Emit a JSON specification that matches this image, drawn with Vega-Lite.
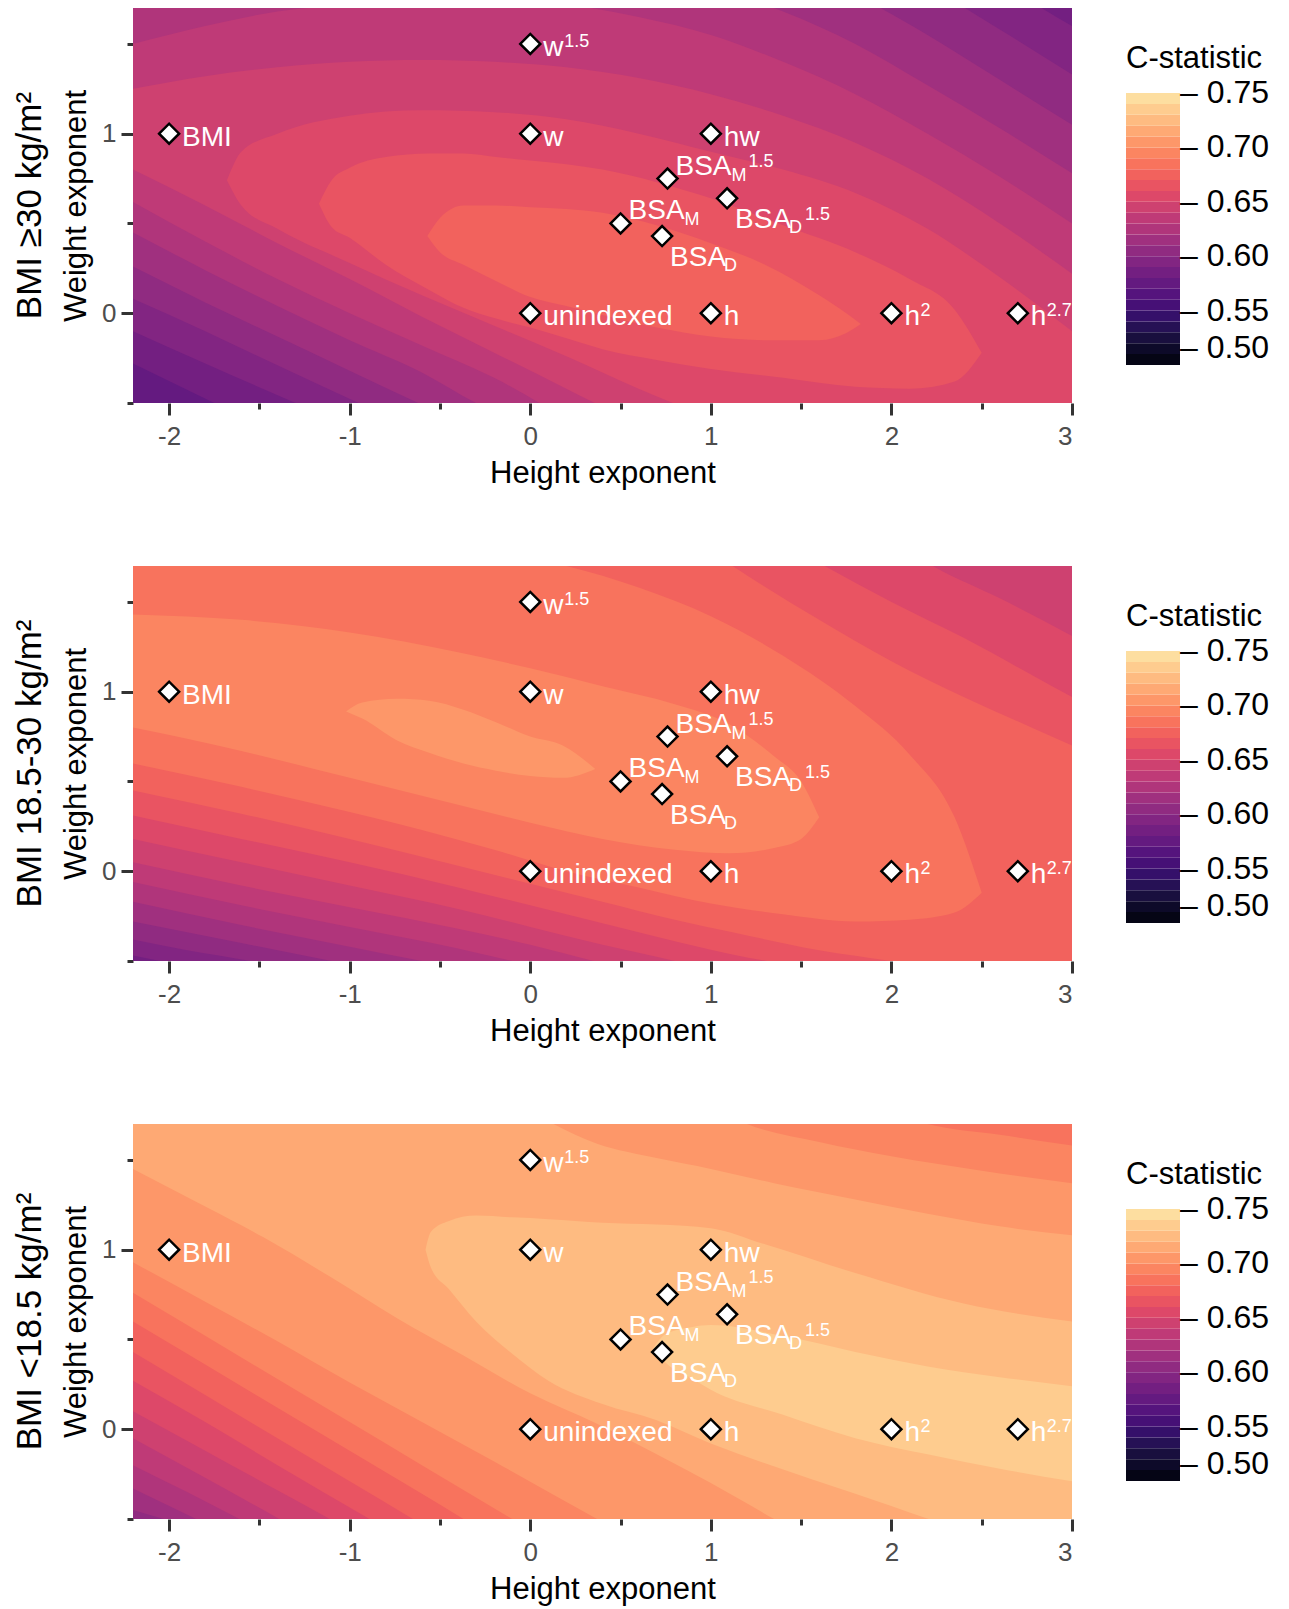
{
"$schema": "https://vega.github.io/schema/vega-lite/v6.json",
"padding": {"left": 12, "top": 8, "right": 5, "bottom": 5},
"background": "white",
"datasets": {
"pts": [
{"n":"BMI","hx":-2,"wx":1,"base":"BMI"},
{"n":"w","hx":0,"wx":1,"base":"w"},
{"n":"w15","hx":0,"wx":1.5,"base":"w","sup":"1.5"},
{"n":"hw","hx":1,"wx":1,"base":"hw"},
{"n":"unindexed","hx":0,"wx":0,"base":"unindexed"},
{"n":"h","hx":1,"wx":0,"base":"h"},
{"n":"h2","hx":2,"wx":0,"base":"h","sup":"2"},
{"n":"h27","hx":2.7,"wx":0,"base":"h","sup":"2.7"},
{"n":"BSAM","hx":0.5,"wx":0.5,"base":"BSA","sub":"M"},
{"n":"BSAM15","hx":0.76,"wx":0.75,"base":"BSA","sub":"M","sup":"1.5"},
{"n":"BSAD","hx":0.73,"wx":0.43,"base":"BSA","sub":"D"},
{"n":"BSAD15","hx":1.09,"wx":0.64,"base":"BSA","sub":"D","sup":"1.5"}
],
"bands": [
{"p":1,"c":0.575,"hx":-2.2,"lo":-0.8,"hi":1.9},{"p":1,"c":0.575,"hx":3,"lo":-0.8,"hi":1.9},
{"p":1,"c":0.585,"hx":-2.2,"lo":-0.28,"hi":1.9},{"p":1,"c":0.585,"hx":-1.75,"lo":-0.5,"hi":1.9},{"p":1,"c":0.585,"hx":-1.3,"lo":-0.72,"hi":1.9},{"p":1,"c":0.585,"hx":3,"lo":-0.8,"hi":1.9},
{"p":1,"c":0.595,"hx":-2.2,"lo":-0.1,"hi":1.9},{"p":1,"c":0.595,"hx":-1.8,"lo":-0.28,"hi":1.9},{"p":1,"c":0.595,"hx":-1.3,"lo":-0.5,"hi":1.9},{"p":1,"c":0.595,"hx":-0.8,"lo":-0.72,"hi":1.9},{"p":1,"c":0.595,"hx":2.6,"lo":-0.8,"hi":1.86},{"p":1,"c":0.595,"hx":2.8,"lo":-0.8,"hi":1.72},{"p":1,"c":0.595,"hx":3,"lo":-0.8,"hi":1.6},
{"p":1,"c":0.605,"hx":-2.2,"lo":0.08,"hi":1.9},{"p":1,"c":0.605,"hx":-1.8,"lo":-0.1,"hi":1.9},{"p":1,"c":0.605,"hx":-1.4,"lo":-0.29,"hi":1.9},{"p":1,"c":0.605,"hx":-0.95,"lo":-0.5,"hi":1.9},{"p":1,"c":0.605,"hx":-0.5,"lo":-0.7,"hi":1.9},{"p":1,"c":0.605,"hx":2,"lo":-0.8,"hi":1.92},{"p":1,"c":0.605,"hx":2.2,"lo":-0.8,"hi":1.82},{"p":1,"c":0.605,"hx":2.6,"lo":-0.8,"hi":1.58},{"p":1,"c":0.605,"hx":3,"lo":-0.8,"hi":1.33},
{"p":1,"c":0.615,"hx":-2.2,"lo":0.26,"hi":1.9},{"p":1,"c":0.615,"hx":-1.8,"lo":0.06,"hi":1.9},{"p":1,"c":0.615,"hx":-1.4,"lo":-0.13,"hi":1.9},{"p":1,"c":0.615,"hx":-1,"lo":-0.32,"hi":1.9},{"p":1,"c":0.615,"hx":-0.62,"lo":-0.5,"hi":1.9},{"p":1,"c":0.615,"hx":-0.2,"lo":-0.7,"hi":1.9},{"p":1,"c":0.615,"hx":1.6,"lo":-0.8,"hi":1.9},{"p":1,"c":0.615,"hx":1.8,"lo":-0.8,"hi":1.78},{"p":1,"c":0.615,"hx":2.2,"lo":-0.8,"hi":1.55},{"p":1,"c":0.615,"hx":2.6,"lo":-0.8,"hi":1.3},{"p":1,"c":0.615,"hx":3,"lo":-0.8,"hi":1.05},
{"p":1,"c":0.625,"hx":-2.2,"lo":0.45,"hi":1.95},{"p":1,"c":0.625,"hx":-1.8,"lo":0.24,"hi":1.95},{"p":1,"c":0.625,"hx":-1.4,"lo":0.04,"hi":1.95},{"p":1,"c":0.625,"hx":-1,"lo":-0.15,"hi":1.95},{"p":1,"c":0.625,"hx":-0.6,"lo":-0.33,"hi":1.95},{"p":1,"c":0.625,"hx":-0.3,"lo":-0.5,"hi":1.95},{"p":1,"c":0.625,"hx":0.1,"lo":-0.68,"hi":1.95},{"p":1,"c":0.625,"hx":0.6,"lo":-0.8,"hi":1.95},{"p":1,"c":0.625,"hx":1,"lo":-0.8,"hi":1.82},{"p":1,"c":0.625,"hx":1.4,"lo":-0.8,"hi":1.68},{"p":1,"c":0.625,"hx":1.8,"lo":-0.8,"hi":1.5},{"p":1,"c":0.625,"hx":2.2,"lo":-0.8,"hi":1.27},{"p":1,"c":0.625,"hx":2.6,"lo":-0.8,"hi":1.03},{"p":1,"c":0.625,"hx":3,"lo":-0.8,"hi":0.78},
{"p":1,"c":0.635,"hx":-2.2,"lo":0.62,"hi":1.5},{"p":1,"c":0.635,"hx":-1.8,"lo":0.4,"hi":1.6},{"p":1,"c":0.635,"hx":-1.4,"lo":0.19,"hi":1.68},{"p":1,"c":0.635,"hx":-1,"lo":0,"hi":1.72},{"p":1,"c":0.635,"hx":-0.6,"lo":-0.18,"hi":1.75},{"p":1,"c":0.635,"hx":-0.2,"lo":-0.36,"hi":1.75},{"p":1,"c":0.635,"hx":0.2,"lo":-0.58,"hi":1.72},{"p":1,"c":0.635,"hx":0.6,"lo":-0.75,"hi":1.65},{"p":1,"c":0.635,"hx":1,"lo":-0.8,"hi":1.55},{"p":1,"c":0.635,"hx":1.4,"lo":-0.8,"hi":1.4},{"p":1,"c":0.635,"hx":1.8,"lo":-0.8,"hi":1.22},{"p":1,"c":0.635,"hx":2.2,"lo":-0.8,"hi":1.0},{"p":1,"c":0.635,"hx":2.6,"lo":-0.8,"hi":0.76},{"p":1,"c":0.635,"hx":3,"lo":-0.8,"hi":0.5},
{"p":1,"c":0.645,"hx":-2.2,"lo":0.8,"hi":1.25},{"p":1,"c":0.645,"hx":-1.8,"lo":0.6,"hi":1.32},{"p":1,"c":0.645,"hx":-1.4,"lo":0.39,"hi":1.37},{"p":1,"c":0.645,"hx":-1,"lo":0.19,"hi":1.4},{"p":1,"c":0.645,"hx":-0.6,"lo":-0.02,"hi":1.41},{"p":1,"c":0.645,"hx":-0.2,"lo":-0.22,"hi":1.4},{"p":1,"c":0.645,"hx":0.2,"lo":-0.42,"hi":1.37},{"p":1,"c":0.645,"hx":0.6,"lo":-0.62,"hi":1.31},{"p":1,"c":0.645,"hx":1,"lo":-0.8,"hi":1.22},{"p":1,"c":0.645,"hx":1.4,"lo":-0.8,"hi":1.1},{"p":1,"c":0.645,"hx":1.8,"lo":-0.8,"hi":0.95},{"p":1,"c":0.645,"hx":2.2,"lo":-0.8,"hi":0.75},{"p":1,"c":0.645,"hx":2.6,"lo":-0.8,"hi":0.5},{"p":1,"c":0.645,"hx":3,"lo":-0.8,"hi":0.22},
{"p":1,"c":0.655,"hx":-1.68,"lo":0.74,"hi":0.74},{"p":1,"c":0.655,"hx":-1.6,"lo":0.6,"hi":0.9},{"p":1,"c":0.655,"hx":-1.4,"lo":0.47,"hi":1.0},{"p":1,"c":0.655,"hx":-1,"lo":0.28,"hi":1.1},{"p":1,"c":0.655,"hx":-0.6,"lo":0.1,"hi":1.13},{"p":1,"c":0.655,"hx":-0.2,"lo":-0.07,"hi":1.12},{"p":1,"c":0.655,"hx":0.2,"lo":-0.24,"hi":1.08},{"p":1,"c":0.655,"hx":0.6,"lo":-0.42,"hi":1.0},{"p":1,"c":0.655,"hx":1,"lo":-0.58,"hi":0.9},{"p":1,"c":0.655,"hx":1.4,"lo":-0.7,"hi":0.8},{"p":1,"c":0.655,"hx":1.8,"lo":-0.8,"hi":0.67},{"p":1,"c":0.655,"hx":2.2,"lo":-0.8,"hi":0.47},{"p":1,"c":0.655,"hx":2.6,"lo":-0.8,"hi":0.2},{"p":1,"c":0.655,"hx":3,"lo":-0.8,"hi":-0.1},
{"p":1,"c":0.665,"hx":-1.17,"lo":0.61,"hi":0.61},{"p":1,"c":0.665,"hx":-1.1,"lo":0.48,"hi":0.74},{"p":1,"c":0.665,"hx":-1,"lo":0.42,"hi":0.81},{"p":1,"c":0.665,"hx":-0.8,"lo":0.27,"hi":0.87},{"p":1,"c":0.665,"hx":-0.56,"lo":0.13,"hi":0.89},{"p":1,"c":0.665,"hx":-0.37,"lo":0.03,"hi":0.89},{"p":1,"c":0.665,"hx":-0.19,"lo":-0.03,"hi":0.87},{"p":1,"c":0.665,"hx":0,"lo":-0.08,"hi":0.85},{"p":1,"c":0.665,"hx":0.2,"lo":-0.14,"hi":0.83},{"p":1,"c":0.665,"hx":0.4,"lo":-0.2,"hi":0.8},{"p":1,"c":0.665,"hx":0.7,"lo":-0.26,"hi":0.73},{"p":1,"c":0.665,"hx":1,"lo":-0.31,"hi":0.64},{"p":1,"c":0.665,"hx":1.4,"lo":-0.36,"hi":0.49},{"p":1,"c":0.665,"hx":1.8,"lo":-0.41,"hi":0.34},{"p":1,"c":0.665,"hx":2.1,"lo":-0.42,"hi":0.19},{"p":1,"c":0.665,"hx":2.35,"lo":-0.38,"hi":0.02},{"p":1,"c":0.665,"hx":2.5,"lo":-0.22,"hi":-0.22},
{"p":1,"c":0.675,"hx":-0.57,"lo":0.43,"hi":0.43},{"p":1,"c":0.675,"hx":-0.5,"lo":0.34,"hi":0.53},{"p":1,"c":0.675,"hx":-0.37,"lo":0.27,"hi":0.6},{"p":1,"c":0.675,"hx":-0.19,"lo":0.18,"hi":0.6},{"p":1,"c":0.675,"hx":0,"lo":0.09,"hi":0.59},{"p":1,"c":0.675,"hx":0.2,"lo":0.04,"hi":0.58},{"p":1,"c":0.675,"hx":0.4,"lo":-0.01,"hi":0.56},{"p":1,"c":0.675,"hx":0.7,"lo":-0.08,"hi":0.49},{"p":1,"c":0.675,"hx":1,"lo":-0.13,"hi":0.39},{"p":1,"c":0.675,"hx":1.3,"lo":-0.15,"hi":0.27},{"p":1,"c":0.675,"hx":1.6,"lo":-0.15,"hi":0.1},{"p":1,"c":0.675,"hx":1.75,"lo":-0.11,"hi":0},{"p":1,"c":0.675,"hx":1.83,"lo":-0.06,"hi":-0.06},

{"p":2,"c":0.585,"hx":-2.2,"lo":-0.8,"hi":1.9},{"p":2,"c":0.585,"hx":3,"lo":-0.8,"hi":1.9},
{"p":2,"c":0.595,"hx":-2.2,"lo":-0.47,"hi":1.9},{"p":2,"c":0.595,"hx":-2.05,"lo":-0.5,"hi":1.9},{"p":2,"c":0.595,"hx":-1.5,"lo":-0.62,"hi":1.9},{"p":2,"c":0.595,"hx":3,"lo":-0.8,"hi":1.9},
{"p":2,"c":0.605,"hx":-2.2,"lo":-0.38,"hi":1.9},{"p":2,"c":0.605,"hx":-1.9,"lo":-0.44,"hi":1.9},{"p":2,"c":0.605,"hx":-1.55,"lo":-0.5,"hi":1.9},{"p":2,"c":0.605,"hx":-1,"lo":-0.62,"hi":1.9},{"p":2,"c":0.605,"hx":3,"lo":-0.8,"hi":1.9},
{"p":2,"c":0.615,"hx":-2.2,"lo":-0.28,"hi":1.9},{"p":2,"c":0.615,"hx":-1.6,"lo":-0.4,"hi":1.9},{"p":2,"c":0.615,"hx":-1.1,"lo":-0.5,"hi":1.9},{"p":2,"c":0.615,"hx":-0.5,"lo":-0.62,"hi":1.9},{"p":2,"c":0.615,"hx":3,"lo":-0.8,"hi":1.9},
{"p":2,"c":0.625,"hx":-2.2,"lo":-0.17,"hi":1.9},{"p":2,"c":0.625,"hx":-1.6,"lo":-0.3,"hi":1.9},{"p":2,"c":0.625,"hx":-1,"lo":-0.42,"hi":1.9},{"p":2,"c":0.625,"hx":-0.6,"lo":-0.5,"hi":1.9},{"p":2,"c":0.625,"hx":0,"lo":-0.62,"hi":1.9},{"p":2,"c":0.625,"hx":3,"lo":-0.8,"hi":1.9},
{"p":2,"c":0.635,"hx":-2.2,"lo":-0.06,"hi":1.9},{"p":2,"c":0.635,"hx":-1.6,"lo":-0.19,"hi":1.9},{"p":2,"c":0.635,"hx":-1,"lo":-0.31,"hi":1.9},{"p":2,"c":0.635,"hx":-0.4,"lo":-0.43,"hi":1.9},{"p":2,"c":0.635,"hx":-0.1,"lo":-0.5,"hi":1.9},{"p":2,"c":0.635,"hx":0.4,"lo":-0.62,"hi":1.9},{"p":2,"c":0.635,"hx":3,"lo":-0.8,"hi":1.9},
{"p":2,"c":0.645,"hx":-2.2,"lo":0.05,"hi":1.9},{"p":2,"c":0.645,"hx":-1.6,"lo":-0.08,"hi":1.9},{"p":2,"c":0.645,"hx":-1,"lo":-0.2,"hi":1.9},{"p":2,"c":0.645,"hx":-0.4,"lo":-0.32,"hi":1.9},{"p":2,"c":0.645,"hx":0,"lo":-0.41,"hi":1.9},{"p":2,"c":0.645,"hx":0.35,"lo":-0.5,"hi":1.9},{"p":2,"c":0.645,"hx":0.8,"lo":-0.62,"hi":1.9},{"p":2,"c":0.645,"hx":3,"lo":-0.8,"hi":1.9},
{"p":2,"c":0.655,"hx":-2.2,"lo":0.18,"hi":1.9},{"p":2,"c":0.655,"hx":-1.6,"lo":0.05,"hi":1.9},{"p":2,"c":0.655,"hx":-1,"lo":-0.08,"hi":1.9},{"p":2,"c":0.655,"hx":-0.4,"lo":-0.21,"hi":1.9},{"p":2,"c":0.655,"hx":0,"lo":-0.31,"hi":1.9},{"p":2,"c":0.655,"hx":0.4,"lo":-0.41,"hi":1.9},{"p":2,"c":0.655,"hx":0.8,"lo":-0.5,"hi":1.9},{"p":2,"c":0.655,"hx":1.2,"lo":-0.6,"hi":1.9},{"p":2,"c":0.655,"hx":1.8,"lo":-0.75,"hi":1.95},{"p":2,"c":0.655,"hx":2,"lo":-0.8,"hi":1.85},{"p":2,"c":0.655,"hx":2.23,"lo":-0.8,"hi":1.7},{"p":2,"c":0.655,"hx":2.6,"lo":-0.8,"hi":1.52},{"p":2,"c":0.655,"hx":3,"lo":-0.8,"hi":1.31},
{"p":2,"c":0.665,"hx":-2.2,"lo":0.31,"hi":1.9},{"p":2,"c":0.665,"hx":-1.6,"lo":0.18,"hi":1.9},{"p":2,"c":0.665,"hx":-1,"lo":0.05,"hi":1.9},{"p":2,"c":0.665,"hx":-0.4,"lo":-0.09,"hi":1.9},{"p":2,"c":0.665,"hx":0,"lo":-0.19,"hi":1.9},{"p":2,"c":0.665,"hx":0.4,"lo":-0.29,"hi":1.9},{"p":2,"c":0.665,"hx":0.8,"lo":-0.39,"hi":1.9},{"p":2,"c":0.665,"hx":1.2,"lo":-0.48,"hi":1.95},{"p":2,"c":0.665,"hx":1.63,"lo":-0.55,"hi":1.7},{"p":2,"c":0.665,"hx":2,"lo":-0.62,"hi":1.5},{"p":2,"c":0.665,"hx":2.4,"lo":-0.7,"hi":1.3},{"p":2,"c":0.665,"hx":2.8,"lo":-0.75,"hi":1.08},{"p":2,"c":0.665,"hx":3,"lo":-0.8,"hi":0.97},
{"p":2,"c":0.675,"hx":-2.2,"lo":0.45,"hi":1.9},{"p":2,"c":0.675,"hx":-1.6,"lo":0.32,"hi":1.9},{"p":2,"c":0.675,"hx":-1,"lo":0.18,"hi":1.9},{"p":2,"c":0.675,"hx":-0.4,"lo":0.03,"hi":1.9},{"p":2,"c":0.675,"hx":0,"lo":-0.07,"hi":1.9},{"p":2,"c":0.675,"hx":0.4,"lo":-0.17,"hi":1.9},{"p":2,"c":0.675,"hx":0.8,"lo":-0.27,"hi":1.92},{"p":2,"c":0.675,"hx":1.12,"lo":-0.34,"hi":1.7},{"p":2,"c":0.675,"hx":1.6,"lo":-0.44,"hi":1.4},{"p":2,"c":0.675,"hx":2,"lo":-0.5,"hi":1.17},{"p":2,"c":0.675,"hx":2.4,"lo":-0.56,"hi":0.97},{"p":2,"c":0.675,"hx":2.8,"lo":-0.6,"hi":0.79},{"p":2,"c":0.675,"hx":3,"lo":-0.62,"hi":0.7},
{"p":2,"c":0.685,"hx":-2.2,"lo":0.6,"hi":1.9},{"p":2,"c":0.685,"hx":-1.6,"lo":0.47,"hi":1.9},{"p":2,"c":0.685,"hx":-1,"lo":0.33,"hi":1.9},{"p":2,"c":0.685,"hx":-0.6,"lo":0.23,"hi":1.88},{"p":2,"c":0.685,"hx":-0.2,"lo":0.12,"hi":1.78},{"p":2,"c":0.685,"hx":0.2,"lo":0,"hi":1.7},{"p":2,"c":0.685,"hx":0.6,"lo":-0.09,"hi":1.58},{"p":2,"c":0.685,"hx":1,"lo":-0.18,"hi":1.42},{"p":2,"c":0.685,"hx":1.4,"lo":-0.24,"hi":1.2},{"p":2,"c":0.685,"hx":1.8,"lo":-0.28,"hi":0.92},{"p":2,"c":0.685,"hx":2.1,"lo":-0.27,"hi":0.65},{"p":2,"c":0.685,"hx":2.35,"lo":-0.23,"hi":0.3},{"p":2,"c":0.685,"hx":2.5,"lo":-0.12,"hi":-0.12},
{"p":2,"c":0.695,"hx":-2.2,"lo":0.8,"hi":1.43},{"p":2,"c":0.695,"hx":-1.6,"lo":0.67,"hi":1.4},{"p":2,"c":0.695,"hx":-1,"lo":0.52,"hi":1.33},{"p":2,"c":0.695,"hx":-0.4,"lo":0.37,"hi":1.22},{"p":2,"c":0.695,"hx":0,"lo":0.27,"hi":1.13},{"p":2,"c":0.695,"hx":0.4,"lo":0.18,"hi":1.03},{"p":2,"c":0.695,"hx":0.8,"lo":0.12,"hi":0.93},{"p":2,"c":0.695,"hx":1.1,"lo":0.1,"hi":0.82},{"p":2,"c":0.695,"hx":1.35,"lo":0.13,"hi":0.64},{"p":2,"c":0.695,"hx":1.5,"lo":0.18,"hi":0.5},{"p":2,"c":0.695,"hx":1.6,"lo":0.3,"hi":0.3},
{"p":2,"c":0.705,"hx":-1.02,"lo":0.89,"hi":0.89},{"p":2,"c":0.705,"hx":-0.93,"lo":0.85,"hi":0.94},{"p":2,"c":0.705,"hx":-0.74,"lo":0.73,"hi":0.96},{"p":2,"c":0.705,"hx":-0.56,"lo":0.66,"hi":0.95},{"p":2,"c":0.705,"hx":-0.37,"lo":0.6,"hi":0.9},{"p":2,"c":0.705,"hx":-0.19,"lo":0.56,"hi":0.83},{"p":2,"c":0.705,"hx":0,"lo":0.53,"hi":0.75},{"p":2,"c":0.705,"hx":0.18,"lo":0.52,"hi":0.7},{"p":2,"c":0.705,"hx":0.36,"lo":0.57,"hi":0.57},

{"p":3,"c":0.605,"hx":-2.2,"lo":-0.8,"hi":1.9},{"p":3,"c":0.605,"hx":3,"lo":-0.8,"hi":1.9},
{"p":3,"c":0.615,"hx":-2.2,"lo":-0.45,"hi":1.9},{"p":3,"c":0.615,"hx":-2.03,"lo":-0.5,"hi":1.9},{"p":3,"c":0.615,"hx":-1.6,"lo":-0.62,"hi":1.9},{"p":3,"c":0.615,"hx":3,"lo":-0.8,"hi":1.9},
{"p":3,"c":0.625,"hx":-2.2,"lo":-0.33,"hi":1.9},{"p":3,"c":0.625,"hx":-1.85,"lo":-0.5,"hi":1.9},{"p":3,"c":0.625,"hx":-1.4,"lo":-0.72,"hi":1.9},{"p":3,"c":0.625,"hx":3,"lo":-0.8,"hi":1.9},
{"p":3,"c":0.635,"hx":-2.2,"lo":-0.2,"hi":1.9},{"p":3,"c":0.635,"hx":-1.9,"lo":-0.35,"hi":1.9},{"p":3,"c":0.635,"hx":-1.61,"lo":-0.5,"hi":1.9},{"p":3,"c":0.635,"hx":-1.2,"lo":-0.71,"hi":1.9},{"p":3,"c":0.635,"hx":3,"lo":-0.8,"hi":1.9},
{"p":3,"c":0.645,"hx":-2.2,"lo":-0.05,"hi":1.9},{"p":3,"c":0.645,"hx":-1.8,"lo":-0.27,"hi":1.9},{"p":3,"c":0.645,"hx":-1.39,"lo":-0.5,"hi":1.9},{"p":3,"c":0.645,"hx":-1,"lo":-0.72,"hi":1.9},{"p":3,"c":0.645,"hx":3,"lo":-0.8,"hi":1.9},
{"p":3,"c":0.655,"hx":-2.2,"lo":0.1,"hi":1.9},{"p":3,"c":0.655,"hx":-1.8,"lo":-0.12,"hi":1.9},{"p":3,"c":0.655,"hx":-1.4,"lo":-0.34,"hi":1.9},{"p":3,"c":0.655,"hx":-1.11,"lo":-0.5,"hi":1.9},{"p":3,"c":0.655,"hx":-0.7,"lo":-0.73,"hi":1.9},{"p":3,"c":0.655,"hx":3,"lo":-0.8,"hi":1.9},
{"p":3,"c":0.665,"hx":-2.2,"lo":0.27,"hi":1.9},{"p":3,"c":0.665,"hx":-1.8,"lo":0.04,"hi":1.9},{"p":3,"c":0.665,"hx":-1.4,"lo":-0.2,"hi":1.9},{"p":3,"c":0.665,"hx":-0.89,"lo":-0.5,"hi":1.9},{"p":3,"c":0.665,"hx":-0.4,"lo":-0.79,"hi":1.9},{"p":3,"c":0.665,"hx":3,"lo":-0.8,"hi":1.9},
{"p":3,"c":0.675,"hx":-2.2,"lo":0.43,"hi":1.9},{"p":3,"c":0.675,"hx":-1.8,"lo":0.19,"hi":1.9},{"p":3,"c":0.675,"hx":-1.4,"lo":-0.05,"hi":1.9},{"p":3,"c":0.675,"hx":-1,"lo":-0.29,"hi":1.9},{"p":3,"c":0.675,"hx":-0.65,"lo":-0.5,"hi":1.9},{"p":3,"c":0.675,"hx":-0.2,"lo":-0.77,"hi":1.9},{"p":3,"c":0.675,"hx":3,"lo":-0.8,"hi":1.9},
{"p":3,"c":0.685,"hx":-2.2,"lo":0.6,"hi":1.9},{"p":3,"c":0.685,"hx":-1.8,"lo":0.36,"hi":1.9},{"p":3,"c":0.685,"hx":-1.4,"lo":0.12,"hi":1.9},{"p":3,"c":0.685,"hx":-1,"lo":-0.12,"hi":1.9},{"p":3,"c":0.685,"hx":-0.6,"lo":-0.36,"hi":1.9},{"p":3,"c":0.685,"hx":-0.37,"lo":-0.5,"hi":1.9},{"p":3,"c":0.685,"hx":0,"lo":-0.72,"hi":1.9},{"p":3,"c":0.685,"hx":3,"lo":-0.8,"hi":1.9},
{"p":3,"c":0.695,"hx":-2.2,"lo":0.76,"hi":1.9},{"p":3,"c":0.695,"hx":-1.8,"lo":0.52,"hi":1.9},{"p":3,"c":0.695,"hx":-1.4,"lo":0.28,"hi":1.9},{"p":3,"c":0.695,"hx":-1,"lo":0.04,"hi":1.9},{"p":3,"c":0.695,"hx":-0.6,"lo":-0.2,"hi":1.9},{"p":3,"c":0.695,"hx":-0.1,"lo":-0.5,"hi":1.9},{"p":3,"c":0.695,"hx":0.3,"lo":-0.74,"hi":1.9},{"p":3,"c":0.695,"hx":1.4,"lo":-0.8,"hi":1.92},{"p":3,"c":0.695,"hx":1.8,"lo":-0.8,"hi":1.85},{"p":3,"c":0.695,"hx":2.2,"lo":-0.8,"hi":1.7},{"p":3,"c":0.695,"hx":2.6,"lo":-0.8,"hi":1.64},{"p":3,"c":0.695,"hx":3,"lo":-0.8,"hi":1.58},
{"p":3,"c":0.705,"hx":-2.2,"lo":0.93,"hi":1.9},{"p":3,"c":0.705,"hx":-1.8,"lo":0.71,"hi":1.9},{"p":3,"c":0.705,"hx":-1.4,"lo":0.49,"hi":1.9},{"p":3,"c":0.705,"hx":-1,"lo":0.26,"hi":1.9},{"p":3,"c":0.705,"hx":-0.6,"lo":0.04,"hi":1.9},{"p":3,"c":0.705,"hx":-0.2,"lo":-0.18,"hi":1.9},{"p":3,"c":0.705,"hx":0.37,"lo":-0.5,"hi":1.9},{"p":3,"c":0.705,"hx":0.8,"lo":-0.74,"hi":1.92},{"p":3,"c":0.705,"hx":1.2,"lo":-0.8,"hi":1.7},{"p":3,"c":0.705,"hx":1.6,"lo":-0.8,"hi":1.6},{"p":3,"c":0.705,"hx":2,"lo":-0.8,"hi":1.52},{"p":3,"c":0.705,"hx":2.5,"lo":-0.8,"hi":1.44},{"p":3,"c":0.705,"hx":3,"lo":-0.8,"hi":1.37},
{"p":3,"c":0.715,"hx":-2.2,"lo":1.45,"hi":1.9},{"p":3,"c":0.715,"hx":-1.8,"lo":1.24,"hi":1.9},{"p":3,"c":0.715,"hx":-1.48,"lo":1.07,"hi":1.9},{"p":3,"c":0.715,"hx":-1.11,"lo":0.85,"hi":1.9},{"p":3,"c":0.715,"hx":-0.74,"lo":0.62,"hi":1.9},{"p":3,"c":0.715,"hx":-0.37,"lo":0.41,"hi":1.9},{"p":3,"c":0.715,"hx":0,"lo":0.2,"hi":1.76},{"p":3,"c":0.715,"hx":0.37,"lo":0.03,"hi":1.59},{"p":3,"c":0.715,"hx":0.7,"lo":-0.14,"hi":1.51},{"p":3,"c":0.715,"hx":1,"lo":-0.3,"hi":1.45},{"p":3,"c":0.715,"hx":1.35,"lo":-0.5,"hi":1.37},{"p":3,"c":0.715,"hx":1.8,"lo":-0.75,"hi":1.28},{"p":3,"c":0.715,"hx":2.2,"lo":-0.8,"hi":1.2},{"p":3,"c":0.715,"hx":2.6,"lo":-0.8,"hi":1.13},{"p":3,"c":0.715,"hx":3,"lo":-0.8,"hi":1.08},
{"p":3,"c":0.725,"hx":-0.58,"lo":1,"hi":1},{"p":3,"c":0.725,"hx":-0.55,"lo":0.9,"hi":1.1},{"p":3,"c":0.725,"hx":-0.45,"lo":0.78,"hi":1.16},{"p":3,"c":0.725,"hx":-0.3,"lo":0.6,"hi":1.19},{"p":3,"c":0.725,"hx":-0.1,"lo":0.42,"hi":1.18},{"p":3,"c":0.725,"hx":0.1,"lo":0.27,"hi":1.17},{"p":3,"c":0.725,"hx":0.4,"lo":0.14,"hi":1.15},{"p":3,"c":0.725,"hx":0.7,"lo":0.05,"hi":1.14},{"p":3,"c":0.725,"hx":1,"lo":-0.08,"hi":1.12},{"p":3,"c":0.725,"hx":1.3,"lo":-0.19,"hi":1.03},{"p":3,"c":0.725,"hx":1.8,"lo":-0.36,"hi":0.87},{"p":3,"c":0.725,"hx":2.4,"lo":-0.56,"hi":0.7},{"p":3,"c":0.725,"hx":3,"lo":-0.7,"hi":0.6},
{"p":3,"c":0.735,"hx":0.68,"lo":0.45,"hi":0.45},{"p":3,"c":0.735,"hx":0.75,"lo":0.37,"hi":0.53},{"p":3,"c":0.735,"hx":0.9,"lo":0.28,"hi":0.57},{"p":3,"c":0.735,"hx":1,"lo":0.22,"hi":0.58},{"p":3,"c":0.735,"hx":1.4,"lo":0.08,"hi":0.52},{"p":3,"c":0.735,"hx":1.8,"lo":-0.05,"hi":0.43},{"p":3,"c":0.735,"hx":2.2,"lo":-0.14,"hi":0.35},{"p":3,"c":0.735,"hx":2.6,"lo":-0.22,"hi":0.29},{"p":3,"c":0.735,"hx":3,"lo":-0.29,"hi":0.24}
]
},
"vconcat": [
{
"width": 939, "height": 395,
"title": {"text": "BMI ≥30 kg/m²", "orient": "left", "anchor": "middle", "offset": 13},
"encoding": {
"x": {"field": "hx", "type": "quantitative", "scale": {"domain": [-2.2, 3], "nice": false, "zero": false}, "axis": {"title": "Height exponent", "values": [-2,-1.5,-1,-0.5,0,0.5,1,1.5,2,2.5,3], "labelExpr": "datum.value % 1 === 0 ? '' + datum.value : ''", "tickSize": {"condition": {"test": "datum.value % 1 === 0", "value": 12}, "value": 6}}},
"y": {"field": "wx", "type": "quantitative", "scale": {"domain": [-0.5, 1.7], "nice": false, "zero": false}, "axis": {"title": "Weight exponent", "labelPadding": 5, "values": [-0.5,0,0.5,1,1.5], "labelExpr": "datum.value % 1 === 0 ? '' + datum.value : ''", "tickSize": {"condition": {"test": "datum.value % 1 === 0", "value": 12}, "value": 6}}}
},
"layer": [
{"data": {"name": "bands"}, "transform": [{"filter": "datum.p == 1"}], "mark": {"type": "area", "interpolate": "monotone", "clip": true},
 "encoding": {"y": {"field": "lo", "type": "quantitative", "scale": {"domain": [-0.5, 1.7], "nice": false, "zero": false}, "stack": null, "axis": {"title": "Weight exponent", "labelPadding": 5, "values": [-0.5,0,0.5,1,1.5], "labelExpr": "datum.value % 1 === 0 ? '' + datum.value : ''", "tickSize": {"condition": {"test": "datum.value % 1 === 0", "value": 12}, "value": 6}}}, "y2": {"field": "hi"},
 "color": {"field": "c", "type": "quantitative", "scale": {"type": "quantize", "domain": [0.5, 0.75], "scheme": {"name": "magma", "count": 25, "extent": [0, 0.97]}},
 "legend": {"type": "gradient", "title": "C-statistic", "orient": "none", "legendX": 993, "legendY": 36, "direction": "vertical", "gradientLength": 272, "gradientThickness": 54, "gradientStrokeWidth": 0, "titleFontSize": 31, "titleFontWeight": "normal", "titleColor": "black", "titlePadding": 18, "labelFontSize": 32, "labelColor": "black", "labelOffset": 0, "labelOverlap": false, "values": [0.5001,0.51,0.52,0.53,0.54,0.55,0.56,0.57,0.58,0.59,0.6,0.61,0.62,0.63,0.64,0.65,0.66,0.67,0.68,0.69,0.7,0.71,0.72,0.73,0.74,0.7499], "labelExpr": "round(datum.value * 100) % 5 === 0 ? '– ' + format(datum.value, '.2f') : ''"}}}},
{"data": {"name": "pts"}, "mark": {"type": "point", "shape": "diamond", "size": 400, "filled": true, "fill": "white", "stroke": "black", "strokeWidth": 2.5, "opacity": 1}},
{"data": {"name": "pts"}, "transform": [{"filter": "!datum.sub"}], "mark": {"type": "text", "dx": 13, "dy": 12}, "encoding": {"text": {"field": "base"}}},
{"data": {"name": "pts"}, "transform": [{"filter": "!datum.sub && datum.base == 'w' && datum.sup"}], "mark": {"type": "text", "dx": 34, "dy": 3, "fontSize": 18}, "encoding": {"text": {"field": "sup"}}},
{"data": {"name": "pts"}, "transform": [{"filter": "!datum.sub && datum.base == 'h' && datum.sup"}], "mark": {"type": "text", "dx": 29, "dy": 3, "fontSize": 18}, "encoding": {"text": {"field": "sup"}}},
{"data": {"name": "pts"}, "transform": [{"filter": "datum.sub == 'M'"}], "mark": {"type": "text", "dx": 8, "dy": -4}, "encoding": {"text": {"field": "base"}}},
{"data": {"name": "pts"}, "transform": [{"filter": "datum.sub == 'M'"}], "mark": {"type": "text", "dx": 64, "dy": 2, "fontSize": 18}, "encoding": {"text": {"field": "sub"}}},
{"data": {"name": "pts"}, "transform": [{"filter": "datum.sub == 'M' && datum.sup"}], "mark": {"type": "text", "dx": 81, "dy": -12, "fontSize": 18}, "encoding": {"text": {"field": "sup"}}},
{"data": {"name": "pts"}, "transform": [{"filter": "datum.sub == 'D'"}], "mark": {"type": "text", "dx": 8, "dy": 30}, "encoding": {"text": {"field": "base"}}},
{"data": {"name": "pts"}, "transform": [{"filter": "datum.sub == 'D'"}], "mark": {"type": "text", "dx": 62, "dy": 35, "fontSize": 18}, "encoding": {"text": {"field": "sub"}}},
{"data": {"name": "pts"}, "transform": [{"filter": "datum.sub == 'D' && datum.sup"}], "mark": {"type": "text", "dx": 78, "dy": 22, "fontSize": 18}, "encoding": {"text": {"field": "sup"}}}
]
},
{
"width": 939, "height": 395,
"title": {"text": "BMI 18.5-30 kg/m²", "orient": "left", "anchor": "middle", "offset": 13},
"encoding": {
"x": {"field": "hx", "type": "quantitative", "scale": {"domain": [-2.2, 3], "nice": false, "zero": false}, "axis": {"title": "Height exponent", "values": [-2,-1.5,-1,-0.5,0,0.5,1,1.5,2,2.5,3], "labelExpr": "datum.value % 1 === 0 ? '' + datum.value : ''", "tickSize": {"condition": {"test": "datum.value % 1 === 0", "value": 12}, "value": 6}}},
"y": {"field": "wx", "type": "quantitative", "scale": {"domain": [-0.5, 1.7], "nice": false, "zero": false}, "axis": {"title": "Weight exponent", "labelPadding": 5, "values": [-0.5,0,0.5,1,1.5], "labelExpr": "datum.value % 1 === 0 ? '' + datum.value : ''", "tickSize": {"condition": {"test": "datum.value % 1 === 0", "value": 12}, "value": 6}}}
},
"layer": [
{"data": {"name": "bands"}, "transform": [{"filter": "datum.p == 2"}], "mark": {"type": "area", "interpolate": "monotone", "clip": true},
 "encoding": {"y": {"field": "lo", "type": "quantitative", "scale": {"domain": [-0.5, 1.7], "nice": false, "zero": false}, "stack": null, "axis": {"title": "Weight exponent", "labelPadding": 5, "values": [-0.5,0,0.5,1,1.5], "labelExpr": "datum.value % 1 === 0 ? '' + datum.value : ''", "tickSize": {"condition": {"test": "datum.value % 1 === 0", "value": 12}, "value": 6}}}, "y2": {"field": "hi"},
 "color": {"field": "c", "type": "quantitative", "scale": {"type": "quantize", "domain": [0.5, 0.75], "scheme": {"name": "magma", "count": 25, "extent": [0, 0.97]}},
 "legend": {"type": "gradient", "title": "C-statistic", "orient": "none", "legendX": 993, "legendY": 36, "direction": "vertical", "gradientLength": 272, "gradientThickness": 54, "gradientStrokeWidth": 0, "titleFontSize": 31, "titleFontWeight": "normal", "titleColor": "black", "titlePadding": 18, "labelFontSize": 32, "labelColor": "black", "labelOffset": 0, "labelOverlap": false, "values": [0.5001,0.51,0.52,0.53,0.54,0.55,0.56,0.57,0.58,0.59,0.6,0.61,0.62,0.63,0.64,0.65,0.66,0.67,0.68,0.69,0.7,0.71,0.72,0.73,0.74,0.7499], "labelExpr": "round(datum.value * 100) % 5 === 0 ? '– ' + format(datum.value, '.2f') : ''"}}}},
{"data": {"name": "pts"}, "mark": {"type": "point", "shape": "diamond", "size": 400, "filled": true, "fill": "white", "stroke": "black", "strokeWidth": 2.5, "opacity": 1}},
{"data": {"name": "pts"}, "transform": [{"filter": "!datum.sub"}], "mark": {"type": "text", "dx": 13, "dy": 12}, "encoding": {"text": {"field": "base"}}},
{"data": {"name": "pts"}, "transform": [{"filter": "!datum.sub && datum.base == 'w' && datum.sup"}], "mark": {"type": "text", "dx": 34, "dy": 3, "fontSize": 18}, "encoding": {"text": {"field": "sup"}}},
{"data": {"name": "pts"}, "transform": [{"filter": "!datum.sub && datum.base == 'h' && datum.sup"}], "mark": {"type": "text", "dx": 29, "dy": 3, "fontSize": 18}, "encoding": {"text": {"field": "sup"}}},
{"data": {"name": "pts"}, "transform": [{"filter": "datum.sub == 'M'"}], "mark": {"type": "text", "dx": 8, "dy": -4}, "encoding": {"text": {"field": "base"}}},
{"data": {"name": "pts"}, "transform": [{"filter": "datum.sub == 'M'"}], "mark": {"type": "text", "dx": 64, "dy": 2, "fontSize": 18}, "encoding": {"text": {"field": "sub"}}},
{"data": {"name": "pts"}, "transform": [{"filter": "datum.sub == 'M' && datum.sup"}], "mark": {"type": "text", "dx": 81, "dy": -12, "fontSize": 18}, "encoding": {"text": {"field": "sup"}}},
{"data": {"name": "pts"}, "transform": [{"filter": "datum.sub == 'D'"}], "mark": {"type": "text", "dx": 8, "dy": 30}, "encoding": {"text": {"field": "base"}}},
{"data": {"name": "pts"}, "transform": [{"filter": "datum.sub == 'D'"}], "mark": {"type": "text", "dx": 62, "dy": 35, "fontSize": 18}, "encoding": {"text": {"field": "sub"}}},
{"data": {"name": "pts"}, "transform": [{"filter": "datum.sub == 'D' && datum.sup"}], "mark": {"type": "text", "dx": 78, "dy": 22, "fontSize": 18}, "encoding": {"text": {"field": "sup"}}}
]
},
{
"width": 939, "height": 395,
"title": {"text": "BMI <18.5 kg/m²", "orient": "left", "anchor": "middle", "offset": 13},
"encoding": {
"x": {"field": "hx", "type": "quantitative", "scale": {"domain": [-2.2, 3], "nice": false, "zero": false}, "axis": {"title": "Height exponent", "values": [-2,-1.5,-1,-0.5,0,0.5,1,1.5,2,2.5,3], "labelExpr": "datum.value % 1 === 0 ? '' + datum.value : ''", "tickSize": {"condition": {"test": "datum.value % 1 === 0", "value": 12}, "value": 6}}},
"y": {"field": "wx", "type": "quantitative", "scale": {"domain": [-0.5, 1.7], "nice": false, "zero": false}, "axis": {"title": "Weight exponent", "labelPadding": 5, "values": [-0.5,0,0.5,1,1.5], "labelExpr": "datum.value % 1 === 0 ? '' + datum.value : ''", "tickSize": {"condition": {"test": "datum.value % 1 === 0", "value": 12}, "value": 6}}}
},
"layer": [
{"data": {"name": "bands"}, "transform": [{"filter": "datum.p == 3"}], "mark": {"type": "area", "interpolate": "monotone", "clip": true},
 "encoding": {"y": {"field": "lo", "type": "quantitative", "scale": {"domain": [-0.5, 1.7], "nice": false, "zero": false}, "stack": null, "axis": {"title": "Weight exponent", "labelPadding": 5, "values": [-0.5,0,0.5,1,1.5], "labelExpr": "datum.value % 1 === 0 ? '' + datum.value : ''", "tickSize": {"condition": {"test": "datum.value % 1 === 0", "value": 12}, "value": 6}}}, "y2": {"field": "hi"},
 "color": {"field": "c", "type": "quantitative", "scale": {"type": "quantize", "domain": [0.5, 0.75], "scheme": {"name": "magma", "count": 25, "extent": [0, 0.97]}},
 "legend": {"type": "gradient", "title": "C-statistic", "orient": "none", "legendX": 993, "legendY": 36, "direction": "vertical", "gradientLength": 272, "gradientThickness": 54, "gradientStrokeWidth": 0, "titleFontSize": 31, "titleFontWeight": "normal", "titleColor": "black", "titlePadding": 18, "labelFontSize": 32, "labelColor": "black", "labelOffset": 0, "labelOverlap": false, "values": [0.5001,0.51,0.52,0.53,0.54,0.55,0.56,0.57,0.58,0.59,0.6,0.61,0.62,0.63,0.64,0.65,0.66,0.67,0.68,0.69,0.7,0.71,0.72,0.73,0.74,0.7499], "labelExpr": "round(datum.value * 100) % 5 === 0 ? '– ' + format(datum.value, '.2f') : ''"}}}},
{"data": {"name": "pts"}, "mark": {"type": "point", "shape": "diamond", "size": 400, "filled": true, "fill": "white", "stroke": "black", "strokeWidth": 2.5, "opacity": 1}},
{"data": {"name": "pts"}, "transform": [{"filter": "!datum.sub"}], "mark": {"type": "text", "dx": 13, "dy": 12}, "encoding": {"text": {"field": "base"}}},
{"data": {"name": "pts"}, "transform": [{"filter": "!datum.sub && datum.base == 'w' && datum.sup"}], "mark": {"type": "text", "dx": 34, "dy": 3, "fontSize": 18}, "encoding": {"text": {"field": "sup"}}},
{"data": {"name": "pts"}, "transform": [{"filter": "!datum.sub && datum.base == 'h' && datum.sup"}], "mark": {"type": "text", "dx": 29, "dy": 3, "fontSize": 18}, "encoding": {"text": {"field": "sup"}}},
{"data": {"name": "pts"}, "transform": [{"filter": "datum.sub == 'M'"}], "mark": {"type": "text", "dx": 8, "dy": -4}, "encoding": {"text": {"field": "base"}}},
{"data": {"name": "pts"}, "transform": [{"filter": "datum.sub == 'M'"}], "mark": {"type": "text", "dx": 64, "dy": 2, "fontSize": 18}, "encoding": {"text": {"field": "sub"}}},
{"data": {"name": "pts"}, "transform": [{"filter": "datum.sub == 'M' && datum.sup"}], "mark": {"type": "text", "dx": 81, "dy": -12, "fontSize": 18}, "encoding": {"text": {"field": "sup"}}},
{"data": {"name": "pts"}, "transform": [{"filter": "datum.sub == 'D'"}], "mark": {"type": "text", "dx": 8, "dy": 30}, "encoding": {"text": {"field": "base"}}},
{"data": {"name": "pts"}, "transform": [{"filter": "datum.sub == 'D'"}], "mark": {"type": "text", "dx": 62, "dy": 35, "fontSize": 18}, "encoding": {"text": {"field": "sub"}}},
{"data": {"name": "pts"}, "transform": [{"filter": "datum.sub == 'D' && datum.sup"}], "mark": {"type": "text", "dx": 78, "dy": 22, "fontSize": 18}, "encoding": {"text": {"field": "sup"}}}
]
}
],
"spacing": 78,
"resolve": {"scale": {"color": "independent"}, "legend": {"color": "independent"}},
"config": {
"font": "Liberation Sans",
"view": {"stroke": null},
"axis": {"labelFont": "Liberation Sans", "titleFont": "Liberation Sans", "labelFontSize": 26, "labelColor": "#4D4D4D", "titleFontSize": 31, "titleFontWeight": "normal", "titleColor": "black", "tickColor": "#333333", "tickWidth": 3, "domain": false, "grid": false, "labelPadding": 8, "titlePadding": 9, "labelOverlap": false},
"legend": {"labelFont": "Liberation Sans", "titleFont": "Liberation Sans"},
"text": {"font": "Liberation Sans", "fontSize": 28, "color": "white", "align": "left", "baseline": "alphabetic"},
"title": {"font": "Liberation Sans", "fontSize": 35, "fontWeight": "normal", "color": "black"}
}
}
